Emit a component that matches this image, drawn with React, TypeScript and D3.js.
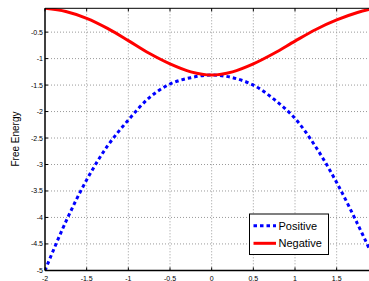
import React from "react";
import * as d3 from "d3";

const xs = [-2, -1.75, -1.5, -1.25, -1, -0.75, -0.5, -0.25, 0, 0.25, 0.5, 0.75, 1, 1.25, 1.5, 1.75, 1.9];
const positive = [-5.0, -4.08, -3.29, -2.65, -2.16, -1.74, -1.48, -1.36, -1.31, -1.36, -1.5, -1.77, -2.13, -2.67, -3.34, -4.12, -4.62];
const negative = [-0.05, -0.11, -0.24, -0.43, -0.66, -0.9, -1.1, -1.25, -1.31, -1.25, -1.1, -0.9, -0.67, -0.45, -0.27, -0.13, -0.07];

const xTicks = [-2, -1.5, -1, -0.5, 0, 0.5, 1, 1.5];
const yTicks = [-0.5, -1, -1.5, -2, -2.5, -3, -3.5, -4, -4.5, -5];
const seriesNames = ["Positive", "Negative"];

const width = 369;
const height = 281;
const font = "'Liberation Sans', Arial, sans-serif";

export default function App() {
  const left = 45, right = 370, top = 8.3, bottom = 270.4;

  const x = d3.scaleLinear().domain([-2, 1.9]).range([left, right]);
  const y = d3.scaleLinear().domain([-5, -0.05]).range([bottom, top]);

  const line = d3.line<number>()
    .x((d, i) => x(xs[i]))
    .y(d => y(d))
    .curve(d3.curveCatmullRom.alpha(0.5));

  const fmt = (v: number) => String(v);

  return (
    <svg width={width} height={height} style={{ position: "absolute", left: 0, top: 0, background: "#fff" }}>
      <defs>
        <clipPath id="plot">
          <rect x={left} y={top} width={right - left} height={bottom - top} />
        </clipPath>
      </defs>
      <rect x={0} y={0} width={width} height={height} fill="#fff" />

      {/* grid */}
      <g stroke="#9a9a9a" strokeWidth={1} strokeDasharray="1,2" fill="none">
        {xTicks.slice(1).map(t => (
          <line key={"gx" + t} x1={x(t)} x2={x(t)} y1={top} y2={bottom} />
        ))}
        {yTicks.slice(0, -1).map(t => (
          <line key={"gy" + t} x1={left} x2={right} y1={y(t)} y2={y(t)} />
        ))}
      </g>

      {/* curves */}
      <g clipPath="url(#plot)" fill="none">
        <path d={line(positive) || ""} stroke="#0000ff" strokeWidth={3} strokeDasharray="3.5,3" />
        <path d={line(negative) || ""} stroke="#ff0000" strokeWidth={3} />
      </g>

      {/* frame & ticks */}
      <g stroke="#000" fill="none">
        <line x1={left} x2={right} y1={top} y2={top} strokeWidth={1} />
        <line x1={left} x2={right} y1={bottom} y2={bottom} strokeWidth={1.5} />
        <line x1={left} x2={left} y1={top} y2={bottom} strokeWidth={1.5} />
        {xTicks.map(t => (
          <g key={"tx" + t}>
            <line x1={x(t)} x2={x(t)} y1={bottom} y2={bottom - 3} />
            <line x1={x(t)} x2={x(t)} y1={top} y2={top + 3} />
          </g>
        ))}
        {yTicks.map(t => (
          <line key={"ty" + t} x1={left} x2={left + 3} y1={y(t)} y2={y(t)} />
        ))}
      </g>

      {/* tick labels */}
      <g fontFamily={font} fontSize={7} fill="#000">
        {xTicks.map(t => (
          <text key={"lx" + t} x={x(t)} y={280.5} textAnchor="middle">{fmt(t)}</text>
        ))}
        {yTicks.map(t => (
          <text key={"ly" + t} x={left - 2} y={y(t) + 2.5} textAnchor="end">{fmt(t)}</text>
        ))}
      </g>

      <text
        transform={`translate(${19},${139}) rotate(-90)`}
        textAnchor="middle"
        fontFamily={font}
        fontSize={10}
        fill="#000"
      >Free Energy</text>

      {/* legend */}
      <g>
        <rect x={249.5} y={214} width={79} height={40.5} fill="#fff" stroke="#000" strokeWidth={1} />
        <line x1={253.5} x2={276} y1={225.7} y2={225.7} stroke="#0000ff" strokeWidth={3} strokeDasharray="3.5,3" />
        <line x1={253.5} x2={276} y1={243.3} y2={243.3} stroke="#ff0000" strokeWidth={3} />
        <text x={278.5} y={229.5} fontFamily={font} fontSize={11} fill="#000">{seriesNames[0]}</text>
        <text x={278.5} y={247.1} fontFamily={font} fontSize={11} fill="#000">{seriesNames[1]}</text>
      </g>
    </svg>
  );
}
